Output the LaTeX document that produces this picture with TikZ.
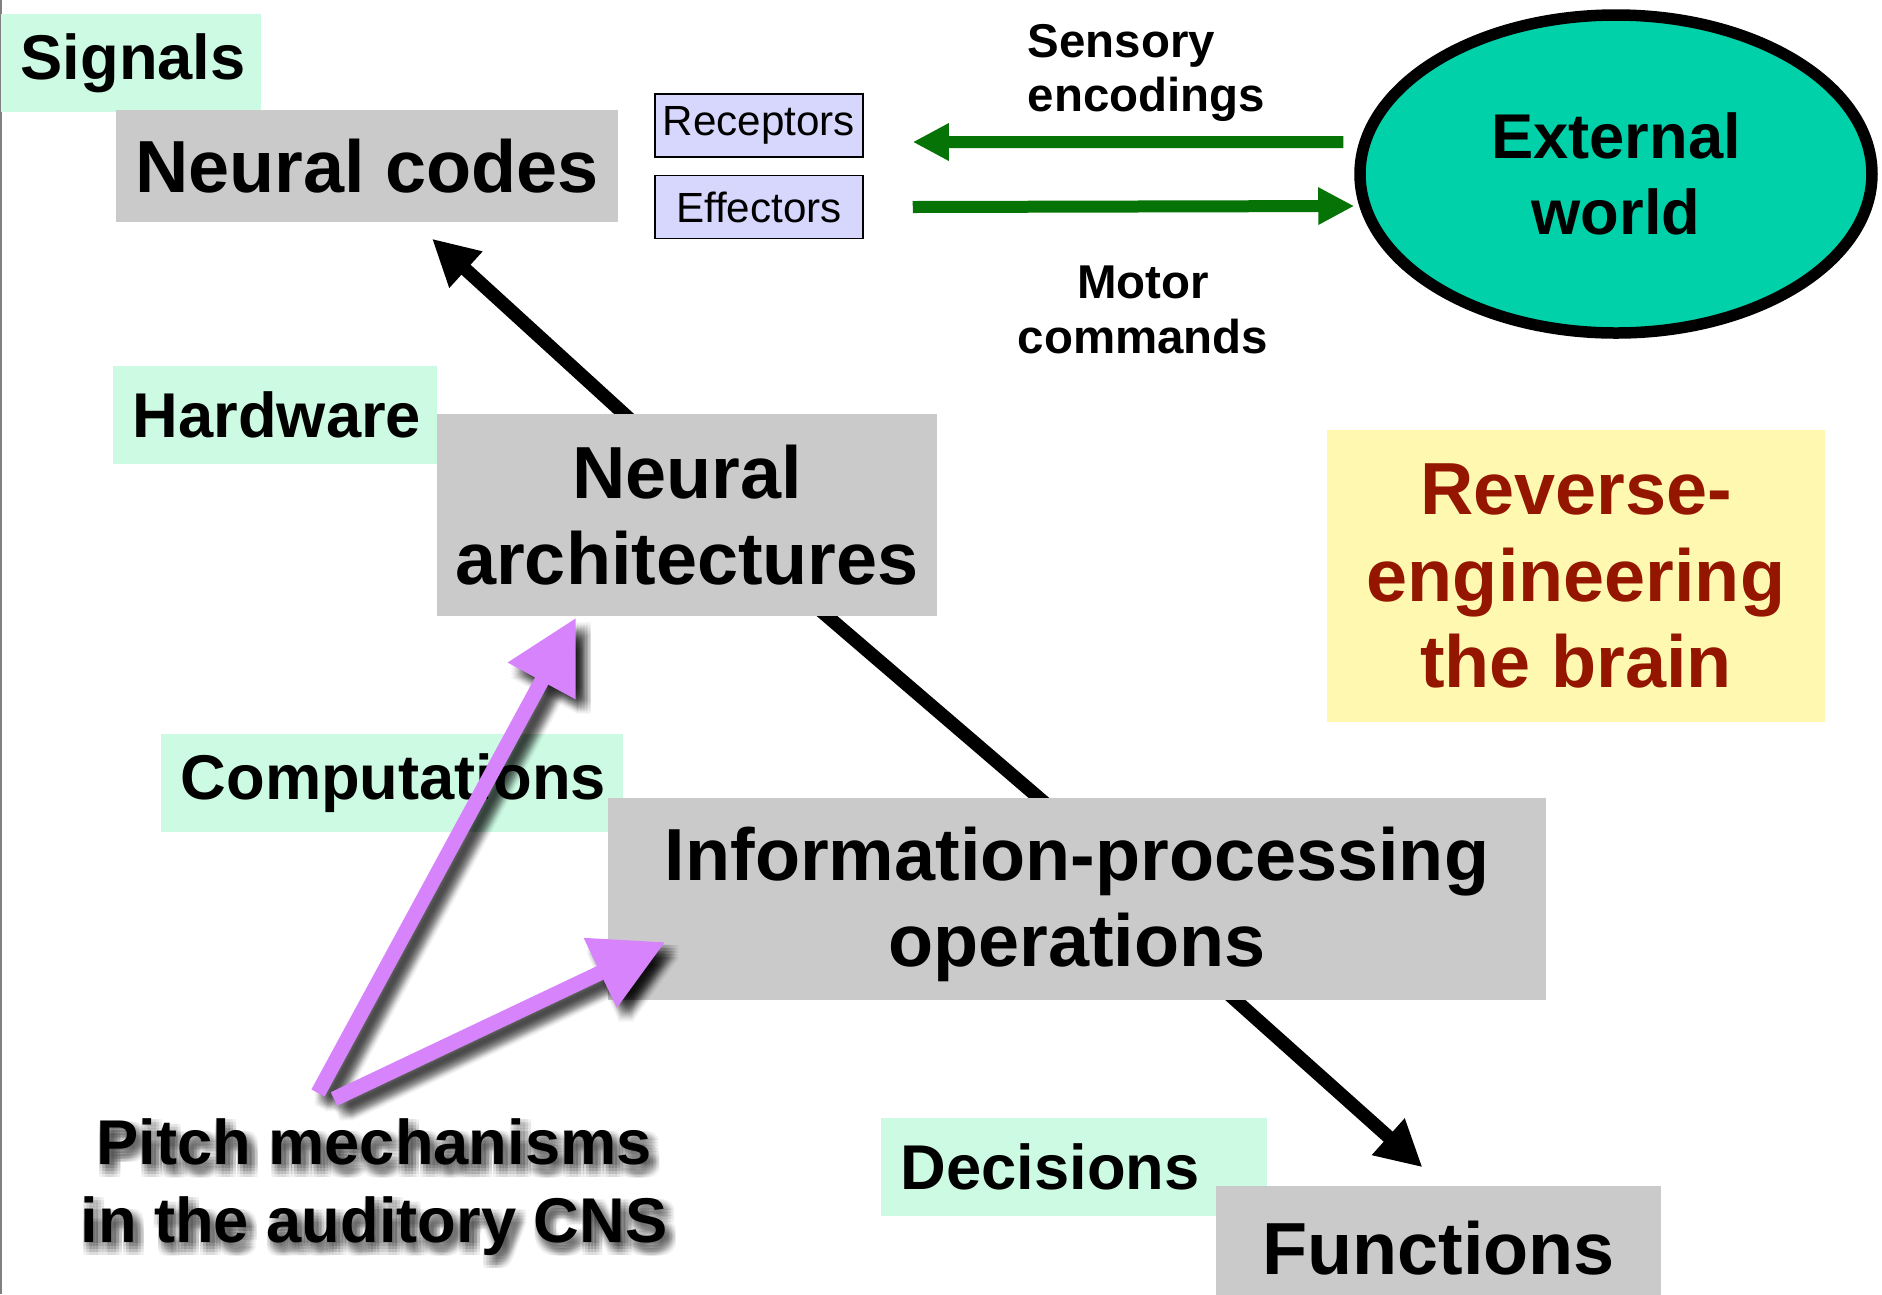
\documentclass[tikz,border=0pt]{standalone}
\usepackage{fontspec}
\setmainfont{Liberation Sans}
\usetikzlibrary{positioning,arrows.meta,shapes.geometric,backgrounds}

\definecolor{mint}{HTML}{CCFAE2}
\definecolor{boxgray}{HTML}{CACACA}
\definecolor{lavender}{HTML}{D7D7FD}
\definecolor{worldteal}{HTML}{00D1A9}
\definecolor{paleyellow}{HTML}{FFF8B0}
\definecolor{brainred}{HTML}{941600}
\definecolor{nervegreen}{HTML}{057305}
\definecolor{lilac}{HTML}{D783FB}

\begin{document}
\begin{tikzpicture}[x=0.1mm,y=-0.1mm]
    \tikzset{grayblock/.style = {fill=boxgray, inner sep=0pt, align=center,
        font=\bfseries\fontsize{21pt}{24.5pt}\selectfont}}
    \tikzset{levelbox/.style = {fill=mint, anchor=west, align=left, text width=#1,
        inner xsep=2mm, inner ysep=0pt, minimum height=9.8mm,
        font=\bfseries\fontsize{18pt}{21pt}\selectfont}}
    \tikzset{organ/.style = {draw, line width=0.15mm, fill=lavender, inner sep=0pt,
        minimum width=20.8mm, minimum height=6.3mm, font=\fontsize{12pt}{14pt}\selectfont}}
    \tikzset{caption/.style = {inner sep=0pt, font=\bfseries\fontsize{13.5pt}{15.5pt}\selectfont}}
    \tikzset{pitchtext/.style = {align=center, font=\bfseries\fontsize{18pt}{22pt}\selectfont}}
    \tikzset{bigarrow/.style = {line width=1.35mm, -{Triangle[length=4.6mm,width=4.6mm]}}}
    \tikzset{nerve/.style = {nervegreen, line width=1.2mm, -{Triangle[length=3.6mm,width=3.5mm]}}}
    \tikzset{pointer/.style = {lilac, line width=1.5mm, -{Triangle[length=7.2mm,width=7.3mm]}}}
    \useasboundingbox (0,0) rectangle (1882,1294);
    \clip (0,0) rectangle (1882,1294);
    \draw[gray, line width=0.25mm] (1,0) -- (1,1294);
    \node[levelbox=22mm] (signals) at (0,63) {Signals};
    \node[grayblock, minimum width=50.2mm, minimum height=11.2mm] (codes) at (367,166) {Neural codes};
    \node[organ] (recep) at (759,125.5) {Receptors};
    \node[organ, below=1.7mm of recep] (effec) {Effectors};
    \node[ellipse, draw, line width=1.15mm, fill=worldteal, inner sep=0pt,
          minimum width=51.2mm, minimum height=31.8mm, align=center,
          font=\bfseries\fontsize{18pt}{21.5pt}\selectfont] (world) at (1616,174) {External\\world};
    \node[caption, anchor=west, align=left] (sensory) at (1027,73) {Sensory\\encodings};
    \node[caption, align=center] (motor) at (1143,310) {Motor\\commands};
    \node[levelbox=28.4mm] (hardware) at (112,414.5) {Hardware};
    \node[grayblock, minimum width=50mm, minimum height=20.2mm] (arch) at (687,515) {Neural\\architectures};
    \node[grayblock, fill=paleyellow, text=brainred, minimum width=49.8mm,
          minimum height=29.2mm] (reverse) at (1576,576) {Reverse-\\engineering\\the brain};
    \node[levelbox=42.2mm] (comput) at (160,783) {Computations};
    \node[grayblock, minimum width=93.8mm, minimum height=20.2mm, text depth=0.5mm] (info) at (1077,899) {Information-processing\\operations};
    \node[levelbox=34.6mm] (decis) at (880,1166.5) {Decisions};
    \node[grayblock, minimum width=44.5mm, minimum height=12.4mm] (funcs) at (1438.5,1248) {Functions};
    \begin{scope}[on background layer]
        \draw[bigarrow] ([shift={(-45,17)}]arch.north) -- ([shift={(65,16)}]codes.south);
        \draw[bigarrow, -] ([shift={(121,-17)}]arch.south) -- ([shift={(-19,17)}]info.north);
        \draw[bigarrow] ([shift={(139,-18)}]info.south) -- ([shift={(-16,-18)}]funcs.north);
    \end{scope}
    \draw[nerve] ([shift={(-11,-32)}]world.west) -- ([shift={(49,16.5)}]recep.east);
    \draw[nerve] ([xshift=4.9mm]effec.east) -- ([yshift=-3.2mm]world.west);
    \coordinate (pitchpos) at (374,1187);
    \foreach \i in {-2,...,2}
        \foreach \j in {-2,...,2}
            \node[pitchtext, black, opacity=0.05] at ([shift={(5+3*\i,7+3*\j)}]pitchpos)
                {Pitch mechanisms\\in the auditory CNS};
    \node[pitchtext] (pitch) at (pitchpos) {Pitch mechanisms\\in the auditory CNS};
    \coordinate (fork) at (326,1096);
    \coordinate (tail1) at ([shift={(-8,-3)}]fork);
    \coordinate (tail2) at ([shift={(8,3)}]fork);
    \coordinate (head1) at ([shift={(-111,1)}]arch.south);
    \coordinate (head2) at ([shift={(58,43)}]info.west);
    \foreach \i in {-2,...,2}
        \foreach \j in {-2,...,2} {
            \draw[pointer, black, opacity=0.05] ([shift={(9+3*\i,9+3*\j)}]tail1) -- ([shift={(9+3*\i,9+3*\j)}]head1);
            \draw[pointer, black, opacity=0.05] ([shift={(9+3*\i,9+3*\j)}]tail2) -- ([shift={(9+3*\i,9+3*\j)}]head2);
        }
    \draw[pointer] (tail1) -- (head1);
    \draw[pointer] (tail2) -- (head2);
\end{tikzpicture}
\end{document}
